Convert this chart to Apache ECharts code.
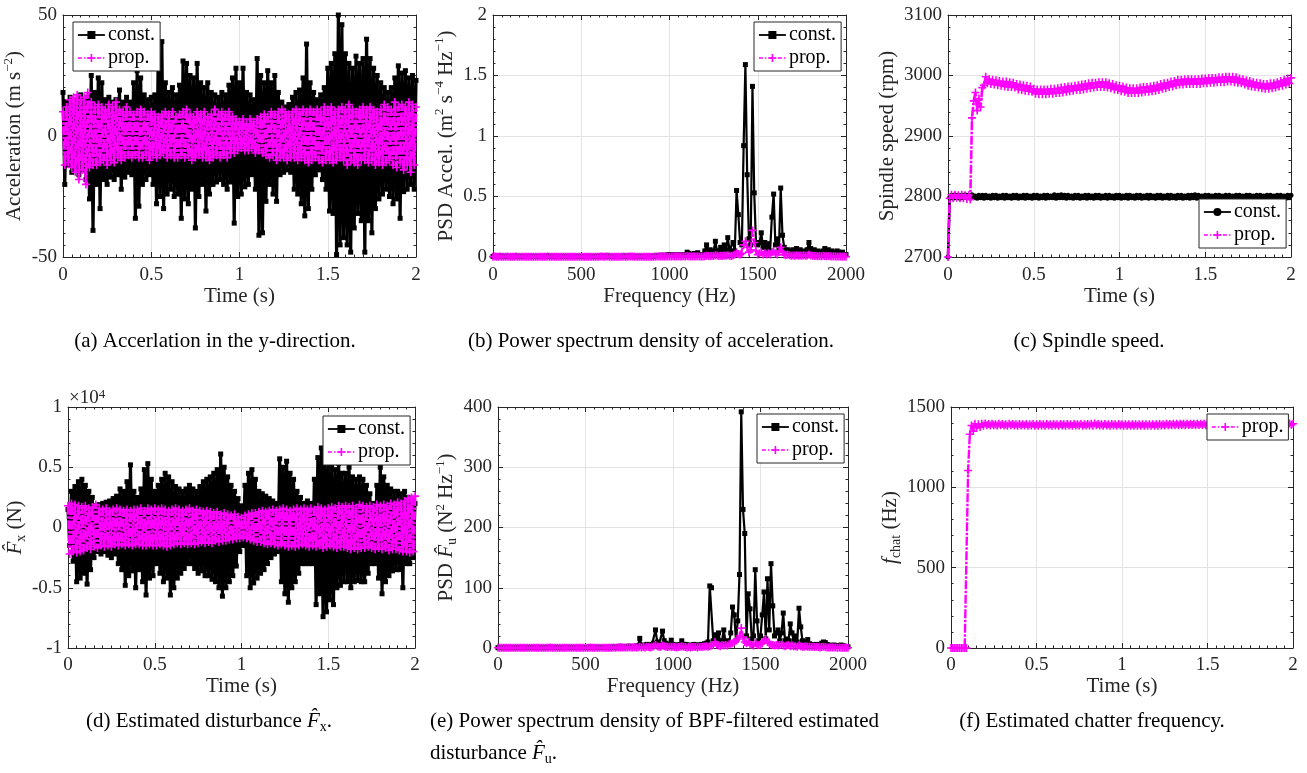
<!DOCTYPE html>
<html><head><meta charset="utf-8">
<script src="https://cdn.jsdelivr.net/npm/echarts@6/dist/echarts.min.js"></script>
<style>html,body{margin:0;padding:0;background:#fff}#c{width:1307px;height:773px}</style>
</head><body><div id="c"></div>
<script>
// ---------- sampling ----------
const timeStep = 0.01;   // s  (samples from t = 0 to 2 s)
const freqStep = 10;     // Hz (bins from 0 to 2000 Hz)

// ---------- (a) acceleration, m/s^2 ----------
const accConst = [
18,-20,14,-12,16,-15,13,-14,15,-16,
17,-14,15,-18,16,-26,25,-39,18,-20,
24,-30,22,-18,15,-20,16,-17,14,-18,
15,-16,19,-22,14,-17,16,-15,14,-16,
22,-34,27,-29,24,-20,17,-18,15,-16,
16,-20,17,-28,38,-25,39,-30,22,-24,
18,-22,20,-25,17,-24,21,-34,31,-26,
30,-28,25,-22,24,-38,30,-25,22,-20,
20,-31,22,-24,18,-20,17,-19,16,-18,
18,-20,17,-22,21,-19,24,-36,28,-25,
22,-24,28,-21,18,-20,17,-16,15,-22,
32,-41,25,-40,22,-27,27,-20,22,-24,
25,-27,18,-16,14,-15,12,-14,13,-15,
16,-22,18,-24,19,-28,24,-33,38,-30,
22,-22,18,-16,15,-14,17,-18,20,-22,
28,-31,30,-32,34,-49,50,-45,46,-42,
34,-45,30,-48,28,-38,33,-32,30,-35,
32,-48,40,-35,32,-40,28,-30,25,-26,
22,-24,20,-22,18,-25,20,-28,24,-26,
29,-34,26,-23,27,-22,24,-20,25,-22,
23];
const accProp = [
10,-12,12,-11,15,-13,16,-15,17,-18,
15,-14,16,-20,18,-13,14,-12,12,-12,
13,-11,12,-10,11,-12,13,-10,12,-11,
14,-9,11,-10,10,-9,12,-8,10,-9,
9,-8,10,-9,11,-9,10,-8,9,-10,
10,-8,9,-9,8,-8,9,-7,10,-9,
9,-8,10,-9,8,-9,9,-8,10,-9,
11,-8,9,-10,8,-9,10,-8,9,-9,
10,-9,8,-10,9,-9,11,-8,9,-9,
10,-8,9,-9,10,-7,8,-7,7,-6,
6,-5,7,-6,5,-6,7,-5,6,-7,
7,-6,8,-7,9,-8,8,-9,10,-8,
9,-10,10,-9,11,-9,10,-10,9,-9,
10,-9,11,-10,10,-9,11,-10,10,-11,
11,-10,10,-9,11,-10,10,-11,12,-10,
11,-10,12,-11,10,-10,11,-9,12,-10,
11,-12,13,-10,11,-11,10,-12,11,-10,
12,-10,11,-11,12,-10,11,-12,10,-11,
11,-12,13,-11,12,-10,11,-12,14,-13,
12,-11,13,-14,12,-12,14,-15,13,-12,
12];

// ---------- (b) PSD of acceleration ----------
const psdAccConst = [
0.005,0.01,0.006,0.004,0.012,0.005,0.004,0.006,0.005,0.004,
0.005,0.004,0.006,0.01,0.005,0.004,0.005,0.006,0.004,0.005,
0.004,0.005,0.006,0.004,0.005,0.004,0.006,0.005,0.004,0.005,
0.006,0.01,0.005,0.004,0.005,0.006,0.004,0.005,0.004,0.006,
0.005,0.004,0.006,0.005,0.004,0.005,0.006,0.004,0.005,0.004,
0.005,0.006,0.004,0.005,0.006,0.004,0.005,0.004,0.006,0.005,
0.006,0.008,0.01,0.006,0.01,0.008,0.005,0.006,0.004,0.005,
0.006,0.005,0.004,0.006,0.008,0.005,0.006,0.01,0.012,0.008,
0.006,0.005,0.004,0.005,0.006,0.004,0.005,0.006,0.004,0.005,
0.006,0.005,0.01,0.012,0.01,0.015,0.012,0.015,0.01,0.018,
0.02,0.015,0.02,0.012,0.015,0.02,0.012,0.015,0.02,0.018,
0.04,0.03,0.02,0.015,0.03,0.02,0.035,0.02,0.015,0.02,
0.05,0.1,0.04,0.06,0.03,0.05,0.13,0.04,0.05,0.08,
0.04,0.1,0.05,0.16,0.06,0.05,0.12,0.05,0.55,0.35,
0.12,0.1,0.92,1.59,0.68,0.15,0.1,1.41,0.53,0.12,
0.1,0.12,0.2,0.08,0.12,0.06,0.11,0.05,0.33,0.52,
0.1,0.15,0.06,0.57,0.18,0.08,0.05,0.06,0.05,0.04,
0.06,0.04,0.07,0.05,0.06,0.04,0.05,0.03,0.06,0.12,
0.07,0.04,0.06,0.03,0.05,0.04,0.03,0.05,0.07,0.04,
0.06,0.03,0.05,0.04,0.03,0.05,0.04,0.03,0.04,0.02,
0.02];
const psdAccProp = [
0.003,0.004,0.003,0.002,0.004,0.003,0.002,0.003,0.004,0.003,
0.003,0.002,0.003,0.004,0.003,0.002,0.003,0.003,0.002,0.003,
0.002,0.003,0.003,0.002,0.003,0.002,0.003,0.003,0.002,0.003,
0.003,0.004,0.003,0.002,0.003,0.003,0.002,0.003,0.002,0.003,
0.003,0.002,0.003,0.003,0.002,0.003,0.003,0.002,0.003,0.002,
0.003,0.003,0.002,0.003,0.003,0.002,0.003,0.002,0.003,0.003,
0.003,0.004,0.004,0.003,0.004,0.004,0.003,0.003,0.002,0.003,
0.003,0.003,0.002,0.003,0.004,0.003,0.003,0.004,0.005,0.004,
0.003,0.003,0.002,0.003,0.003,0.002,0.003,0.003,0.002,0.003,
0.003,0.003,0.004,0.005,0.004,0.005,0.004,0.005,0.004,0.005,
0.005,0.004,0.006,0.004,0.005,0.006,0.004,0.005,0.006,0.005,
0.008,0.006,0.005,0.004,0.006,0.005,0.007,0.005,0.004,0.005,
0.006,0.01,0.008,0.006,0.01,0.008,0.015,0.012,0.008,0.01,
0.008,0.012,0.01,0.015,0.01,0.008,0.012,0.02,0.03,0.025,
0.02,0.03,0.1,0.13,0.08,0.04,0.06,0.22,0.12,0.05,
0.02,0.03,0.04,0.02,0.03,0.02,0.03,0.02,0.04,0.05,
0.03,0.02,0.04,0.08,0.04,0.02,0.015,0.02,0.015,0.01,
0.012,0.01,0.015,0.01,0.012,0.01,0.015,0.01,0.012,0.02,
0.012,0.01,0.008,0.01,0.006,0.008,0.006,0.01,0.008,0.006,
0.008,0.006,0.005,0.006,0.005,0.004,0.005,0.004,0.003,0.004,
0.003];

// ---------- (c) spindle speed, rpm ----------
const spdConst = [
2700,
2798,2802,2797,2803,2798,2802,2797,2802,2798,2803,
2798,2802,2797,2803,2798,2801,2797,2802,2798,2802,
2797,2802,2798,2801,2797,2802,2798,2802,2797,2801,
2798,2802,2797,2802,2798,2801,2797,2802,2798,2802,
2797,2801,2798,2802,2797,2802,2798,2801,2797,2802,
2798,2802,2797,2801,2798,2802,2797,2802,2798,2801,
2798,2803,2797,2802,2798,2803,2798,2802,2797,2802,
2798,2801,2797,2802,2798,2802,2797,2801,2798,2802,
2797,2802,2798,2801,2797,2802,2798,2802,2797,2801,
2798,2802,2797,2802,2798,2801,2797,2802,2798,2802,
2797,2801,2798,2802,2797,2802,2798,2801,2797,2802,
2798,2802,2797,2801,2798,2802,2797,2802,2798,2801,
2797,2802,2798,2802,2797,2801,2798,2802,2797,2802,
2798,2801,2797,2802,2798,2802,2797,2801,2798,2802,
2797,2802,2798,2803,2797,2802,2798,2801,2797,2802,
2798,2802,2797,2801,2798,2802,2797,2802,2798,2801,
2797,2802,2798,2802,2797,2801,2798,2802,2797,2802,
2798,2801,2797,2802,2798,2802,2797,2801,2798,2802,
2797,2802,2798,2801,2797,2802,2798,2802,2797,2801,
2798,2802,2797,2802,2798,2801,2797,2802,2798,2802];
const spdProp = [
2700,
2797,2803,2797,2803,2798,2802,2797,2803,2797,2802,2796,2802,
2795,2930,2958,2972,2942,2962,2948,2980,2984,2998,
2987,2994,2986,2993,2985,2992,2984,
2991,2983,2990,2982,2990,2981,2989,2981,2988,2980,
2986,2977,2985,2976,2984,2975,2983,2974,2982,2973,
2978,2970,2977,2969,2977,2969,2977,2969,2977,2970,
2978,2970,2978,2971,2979,2971,2980,2972,2981,2973,
2982,2974,2982,2975,2983,2976,2984,2976,2985,2977,
2986,2978,2987,2979,2988,2980,2988,2981,2989,2981,
2989,2981,2989,2980,2987,2979,2986,2977,2984,2976,
2983,2974,2982,2973,2980,2971,2979,2971,2979,2971,
2979,2971,2980,2972,2981,2973,2981,2973,2982,2974,
2983,2975,2984,2976,2986,2978,2987,2979,2988,2981,
2990,2982,2991,2984,2993,2985,2993,2985,2994,2986,
2994,2986,2994,2986,2994,2986,2994,2986,2995,2987,
2995,2987,2996,2988,2996,2988,2996,2989,2997,2989,
2997,2989,2998,2990,2998,2990,2998,2989,2997,2988,
2995,2987,2994,2985,2992,2983,2991,2982,2989,2981,
2988,2980,2987,2979,2986,2978,2986,2978,2987,2979,
2987,2980,2989,2982,2991,2983,2993,2985,2995,2987,
2996];

// ---------- (d) estimated disturbance Fx, N ----------
const fxConst = [
1500,-1500,3000,-2800,3400,-4500,3800,-4200,4000,-3800,
3500,-4700,3000,-3500,2500,-2500,1800,-2000,1900,-2200,
2000,-2000,2100,-2300,2200,-2500,2400,-2200,2600,-3000,
3200,-3500,3000,-4800,3800,-4000,5200,-3600,3000,-5000,
2500,-3500,3200,-4500,4800,-5600,5300,-4200,4000,-4000,
3000,-3000,3500,-3800,4000,-4500,4500,-4200,4200,-5600,
3800,-5000,3400,-4200,3200,-3800,3000,-3400,3200,-3000,
3500,-3000,3200,-3400,3000,-3800,3400,-3600,3800,-4000,
4000,-4000,4200,-4300,4500,-4500,4800,-5000,6100,-5700,
5000,-5000,4200,-4500,3500,-4000,3000,-3200,2400,-2000,
1800,-1500,3500,-4000,4500,-5000,4800,-4600,4000,-4200,
3000,-3800,2800,-3500,2600,-3000,2400,-2500,2200,-2200,
2000,-2000,5700,-4500,5000,-5500,5500,-6200,4500,-5000,
4000,-4500,3000,-3800,2500,-3000,2000,-3000,2200,-3000,
2000,-3000,4000,-6400,5800,-5500,6600,-7400,6000,-7000,
5500,-6000,5000,-6400,4800,-5000,5300,-4800,4500,-4500,
4500,-4500,5000,-5000,4200,-4500,4000,-4400,4200,-4500,
4000,-4500,3500,-3800,2800,-3000,2000,-3000,3500,-4200,
5000,-5500,4200,-4500,3500,-4000,3200,-3600,3000,-3500,
3000,-3500,2800,-5000,3000,-3000,2500,-3000,2200,-2500,
2000];
const fxProp = [
1800,-2200,2000,-2000,1900,-2100,1800,-2000,1700,-1900,
1800,-1700,1600,-1800,1700,-1600,1900,-1700,1600,-1500,
1500,-1600,1600,-1500,1400,-1600,1500,-1400,1600,-1500,
1500,-1400,1400,-1500,1500,-1400,1400,-1500,1500,-1400,
1500,-1400,1600,-1500,1400,-1500,1600,-1400,1500,-1500,
1600,-1500,1500,-1400,1600,-1500,1500,-1600,1400,-1500,
1500,-1400,1600,-1300,1500,-1400,1400,-1300,1500,-1400,
1600,-1300,1400,-1400,1500,-1300,1400,-1200,1300,-1300,
1400,-1200,1300,-1300,1200,-1100,1300,-1200,1100,-1100,
1200,-1100,1100,-1000,1000,-1000,1100,-900,900,-900,
800,-800,1000,-900,1100,-1000,1200,-1100,1200,-1200,
1300,-1200,1400,-1300,1300,-1400,1400,-1300,1500,-1400,
1400,-1500,1500,-1400,1600,-1500,1500,-1600,1400,-1500,
1500,-1600,1600,-1500,1500,-1400,1600,-1500,1500,-1600,
1600,-1500,1500,-1600,1700,-1500,1600,-1700,1500,-1600,
1600,-1500,1700,-1600,1600,-1700,1800,-1600,1700,-1600,
1800,-1700,1700,-1800,1800,-1700,1600,-1800,1900,-1700,
1800,-1700,1700,-1600,1800,-1700,1700,-1800,1900,-1700,
1800,-1800,1900,-1700,1800,-1900,2000,-1800,1900,-1800,
2100,-1900,2000,-2000,2200,-2000,2400,-2100,2500,-2000,
2600];

// ---------- (e) PSD of BPF-filtered Fu ----------
const psdFuConst = [
0.5,0.8,0.6,0.5,0.7,0.5,0.6,0.5,0.7,0.6,
0.5,0.6,0.8,0.5,0.6,0.7,0.5,0.6,0.5,0.7,
0.6,0.5,0.7,0.6,0.5,0.8,0.6,0.5,0.7,1.5,
2,1,0.8,0.6,0.7,0.8,0.6,0.7,0.9,0.8,
1.5,0.8,0.6,0.7,0.8,0.9,1,0.8,0.7,0.8,
0.9,1,0.8,2,1,0.9,1.2,1,0.9,1.1,
1,0.9,1.2,1.1,1,1.3,1.5,1.2,2,1.5,
3,2,1.5,2,2.5,3,2,2.5,3,2,
4,16,5,3,4,6,5,4,6,8,
30,10,6,5,28,12,8,5,6,13,
6,5,4,5,6,12,6,6,5,4,
5,4,6,5,4,5,6,5,7,8,
10,103,100,12,22,10,25,8,12,30,
10,12,8,25,68,55,12,45,122,392,
230,190,20,90,65,15,20,130,45,12,
20,55,93,15,115,30,140,70,20,25,
30,12,25,58,12,15,12,40,25,12,
20,10,66,35,12,8,10,14,7,6,
5,4,6,5,4,8,10,9,6,5,
4,3,5,4,3,4,5,4,3,2,
2];
const psdFuProp = [
0.3,0.4,0.3,0.5,0.3,0.4,0.3,0.4,0.3,0.5,
0.4,0.3,0.4,0.3,0.5,0.3,0.4,0.3,0.4,0.3,
0.3,0.4,0.5,0.3,0.4,0.3,0.4,0.5,0.3,0.6,
0.8,0.5,0.4,0.3,0.4,0.5,0.3,0.4,0.5,0.4,
0.6,0.4,0.3,0.4,0.5,0.4,0.5,0.4,0.3,0.4,
0.5,0.6,0.4,0.8,0.5,0.4,0.6,0.5,0.4,0.5,
0.5,0.4,0.6,0.5,0.5,0.6,0.7,0.6,0.8,0.7,
1,0.8,0.7,0.8,1,1.2,0.8,1,1.2,0.8,
1,2,1,1.5,1,2,1.5,1,2,3,
5,3,2,2,4,3,2,1.5,2,2,
2,1.5,1,1.5,2,3,2,1.5,1,1.5,
1,1.5,2,1.5,1,2,1.5,2,2.5,3,
2,3,4,5,10,6,4,3,5,4,
5,4,6,7,8,10,12,15,20,33,
18,10,8,10,6,5,4,8,6,5,
6,8,12,15,10,8,6,5,4,5,
4,5,6,4,3,4,5,3,4,3,
3,2,4,3,2,2,3,2,2,2,
2,1.5,2,1.5,1,1.5,2,1.5,1,1,
1,0.8,1,0.8,0.6,0.8,0.6,0.5,0.6,0.5,
0.5];

// ---------- (f) estimated chatter frequency, Hz ----------
const fchatProp = [
0,0,0,0,0,0,0,0,0,0,
1105,1330,1385,1350,1395,1370,1392,1375,1396,1384,
1398,1386,1394,1385,1396,1387,1393,1385,1395,1386,
1394,1385,1393,1384,1395,1386,1394,1385,1393,1384,
1394,1385,1393,1385,1394,1384,1393,1385,1394,1384,
1393,1384,1394,1385,1393,1384,1394,1385,1393,1384,
1394,1385,1393,1384,1394,1385,1393,1384,1394,1385,
1393,1384,1394,1385,1393,1385,1394,1384,1393,1385,
1394,1385,1395,1384,1397,1386,1394,1385,1393,1384,
1394,1385,1393,1384,1394,1385,1393,1384,1394,1385,
1393,1384,1392,1383,1393,1384,1392,1383,1393,1384,
1392,1383,1393,1384,1392,1383,1393,1384,1392,1384,
1393,1384,1394,1385,1393,1385,1395,1386,1394,1386,
1395,1387,1396,1387,1395,1388,1396,1387,1395,1388,
1396,1388,1395,1387,1396,1388,1395,1388,1396,1387,
1395,1388,1396,1387,1395,1388,1396,1388,1395,1387,
1396,1388,1397,1387,1396,1388,1395,1387,1396,1388,
1395,1387,1396,1388,1395,1387,1396,1388,1395,1388,
1396,1387,1395,1388,1396,1388,1395,1387,1396,1388,
1395,1388,1396,1387,1395,1388,1396,1388,1397,1389,
1396];

// ---------- labels ----------
const captions = [
  {text:'(a) Accerlation in the y-direction.', x:215, y:341, align:'center'},
  {text:'(b) Power spectrum density of acceleration.', x:651, y:341, align:'center'},
  {text:'(c) Spindle speed.', x:1089, y:341, align:'center'},
  {text:'(d) Estimated disturbance {it|F\u0302}{sub|x}.', x:86, y:721, align:'left'},
  {text:'(e) Power spectrum density of BPF-filtered estimated', x:430, y:721, align:'left'},
  {text:'disturbance {it|F\u0302}{sub|u}.', x:430, y:753, align:'left'},
  {text:'(f) Estimated chatter frequency.', x:1092, y:721, align:'center'}
];

// ---------- styling ----------
const FONT = 'Liberation Serif';
const AX = '#262626';
const GRIDC = '#e3e3e3';
const MAG = '#ff00ff';
const plusPath = 'path://M4,0H6V4H10V6H6V10H4V6H0V4H4Z';
const DASHDOT = [9,1.5,2.5,1.5];

function pairs(vals, step){ return vals.map((v,i)=>[Math.round(i*step*1000)/1000, v]); }

const richDef = {
  sup:{fontFamily:FONT, fontSize:13, lineHeight:16, verticalAlign:'top', color:AX},
  sub:{fontFamily:FONT, fontSize:14, lineHeight:14, verticalAlign:'bottom', color:AX},
  it:{fontFamily:FONT, fontSize:21, lineHeight:26, fontStyle:'italic', color:AX}
};

const timeX = {min:0,max:2,interval:0.5,minor:10,name:'Time (s)'};
const freqX = {min:0,max:2000,interval:500,minor:10,name:'Frequency (Hz)'};

const panels = [
 {grid:{left:63,top:15,width:353,height:242}, x:timeX, xGap:28, labelMargin:9, lwC:3.2, lwP:3.0,
  y:{min:-50,max:50,interval:50,minor:10,name:'Acceleration (m s{sup|\u22122})',gap:35},
  legend:{left:73,top:22},
  series:[{name:'const.#a',vals:accConst,step:timeStep,sym:'rect'},{name:'prop.#a',vals:accProp,step:timeStep}]},
 {grid:{left:493,top:15,width:353,height:242}, x:freqX, xGap:28, labelMargin:9, lwC:2.2, lwP:2.2,
  y:{min:0,max:2,interval:0.5,minor:5,name:'PSD Accel. (m{sup|2} s{sup|\u22124} Hz{sup|\u22121})',gap:33},
  legend:{left:754,top:22},
  series:[{name:'const.#b',vals:psdAccConst,step:freqStep,sym:'rect'},{name:'prop.#b',vals:psdAccProp,step:freqStep}]},
 {grid:{left:948,top:15,width:343,height:242}, x:timeX, xGap:28, labelMargin:9, lwC:2.6, lwP:2.6,
  y:{min:2700,max:3100,interval:100,minor:5,name:'Spindle speed (rpm)',gap:46},
  legend:{left:1199,top:199},
  series:[{name:'const.#c',vals:spdConst,step:timeStep,sym:'circle'},{name:'prop.#c',vals:spdProp,step:timeStep}]},
 {grid:{left:68,top:407,width:347,height:241}, x:timeX, xGap:27, labelMargin:8, lwC:3.2, lwP:3.0,
  y:{min:-10000,max:10000,interval:5000,minor:5,name:'{it|F\u0302}{sub|x} (N)',gap:40,fmt:v=>String(v/10000)},
  legend:{left:323,top:416},
  series:[{name:'const.#d',vals:fxConst,step:timeStep,sym:'rect'},{name:'prop.#d',vals:fxProp,step:timeStep}]},
 {grid:{left:498,top:407,width:350,height:241}, x:freqX, xGap:27, labelMargin:8, lwC:2.2, lwP:2.2,
  y:{min:0,max:400,interval:100,minor:5,name:'PSD {it|F\u0302}{sub|u} (N{sup|2} Hz{sup|\u22121})',gap:36},
  legend:{left:757,top:414},
  series:[{name:'const.#e',vals:psdFuConst,step:freqStep,sym:'rect'},{name:'prop.#e',vals:psdFuProp,step:freqStep}]},
 {grid:{left:951,top:407,width:342,height:241}, x:timeX, xGap:27, labelMargin:8, lwC:2.4, lwP:2.4,
  y:{min:0,max:1500,interval:500,minor:5,name:'{it|f}{sub|chat} (Hz)',gap:44},
  legend:{left:1207,top:414},
  series:[{name:'prop.#f',vals:fchatProp,step:timeStep}]}
];

const grids=[], xAxes=[], yAxes=[], series=[], legends=[];
function baseAxis(gi, c){
  return {type:'value', gridIndex:gi, min:c.min, max:c.max, interval:c.interval,
    axisLine:{show:true,onZero:false,lineStyle:{color:AX,width:1}},
    axisTick:{show:true,inside:true,length:5,lineStyle:{color:AX,width:1}},
    minorTick:{show:true,splitNumber:c.minor,length:2.5,lineStyle:{color:AX,width:1}},
    minorSplitLine:{show:false}};
}
panels.forEach((p,gi)=>{
  grids.push(Object.assign({containLabel:false}, p.grid));
  const xb = baseAxis(gi,p.x), yb = baseAxis(gi,p.y);
  xAxes.push(Object.assign({}, xb, {position:'bottom',
    splitLine:{show:true,lineStyle:{color:GRIDC,width:1}},
    axisLabel:{show:true,margin:p.labelMargin,fontFamily:FONT,fontSize:19,color:AX,showMinLabel:true,showMaxLabel:true,
      formatter:v=>String(v)},
    name:p.x.name,nameLocation:'middle',nameGap:p.xGap,
    nameTextStyle:{fontFamily:FONT,fontSize:21,color:AX}}));
  xAxes.push(Object.assign({}, xb, {position:'top',splitLine:{show:false},axisLabel:{show:false}}));
  yAxes.push(Object.assign({}, yb, {position:'left',
    splitLine:{show:true,lineStyle:{color:GRIDC,width:1}},
    axisLabel:{show:true,margin:6,fontFamily:FONT,fontSize:19,color:AX,showMinLabel:true,showMaxLabel:true,
      formatter:p.y.fmt||(v=>String(v))},
    name:p.y.name,nameLocation:'middle',nameGap:p.y.gap,nameRotate:90,
    nameTextStyle:{fontFamily:FONT,fontSize:21,lineHeight:26,color:AX,rich:richDef}}));
  yAxes.push(Object.assign({}, yb, {position:'right',splitLine:{show:false},axisLabel:{show:false}}));
  const legendItems=[];
  p.series.forEach(s=>{
    const isConst = s.name.startsWith('const');
    legendItems.push(isConst
      ? {name:s.name, lineStyle:{color:'#000',width:1.8,type:'solid'}}
      : {name:s.name, lineStyle:{color:MAG,width:1.5,type:[4,2,1.5,2]}});
    series.push({type:'line', name:s.name, xAxisIndex:gi*2, yAxisIndex:gi*2,
      data:pairs(s.vals,s.step), animation:false, sampling:null, showAllSymbol:true,
      symbol: isConst ? s.sym : plusPath,
      symbolSize: isConst ? 5 : 8,
      itemStyle:{color: isConst ? '#000' : MAG},
      lineStyle: isConst ? {color:'#000',width:p.lwC,type:'solid'} : {color:MAG,width:p.lwP,type:DASHDOT},
      emphasis:{disabled:true}, z: isConst?2:3});
  });
  legends.push({left:p.legend.left, top:p.legend.top, orient:'vertical', data:legendItems,
    formatter:n=>n.split('#')[0], selectedMode:false,
    itemWidth:27, itemHeight:10, itemGap:3, padding:[3,5,3,4],
    backgroundColor:'#fff', borderColor:AX, borderWidth:1, borderRadius:0,
    textStyle:{fontFamily:FONT,fontSize:20,color:'#000',padding:[0,0,0,-2]}});
});

const graphics = captions.map(c=>({type:'text', x:c.x, y:c.y,
  style:{text:c.text, x:0, y:0, fill:'#000', fontFamily:FONT, fontSize:21,
    textAlign:c.align, textVerticalAlign:'middle',
    rich:{
      it:{fontFamily:FONT,fontSize:21,lineHeight:26,fontStyle:'italic',fill:'#000'},
      sub:{fontFamily:FONT,fontSize:14,lineHeight:14,verticalAlign:'bottom',fill:'#000'}
    }}}));
graphics.push({type:'text', x:69, y:398, style:{text:'\u00d710{sup|4}', fill:AX, fontFamily:FONT, fontSize:19,
  textAlign:'left', textVerticalAlign:'middle',
  rich:{sup:{fontFamily:FONT,fontSize:13,lineHeight:14,verticalAlign:'top',fill:AX}}}});

const chart = echarts.init(document.getElementById('c'), null, {renderer:'canvas'});
chart.setOption({animation:false, backgroundColor:'#fff',
  grid:grids, xAxis:xAxes, yAxis:yAxes, series:series, legend:legends, graphic:graphics});
</script></body></html>
